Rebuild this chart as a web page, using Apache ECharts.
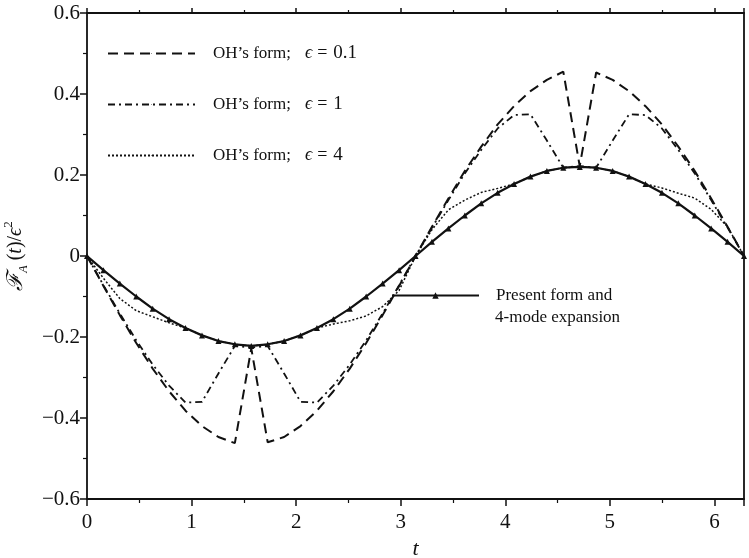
<!DOCTYPE html>
<html>
<head>
<meta charset="utf-8">
<script src="https://cdn.jsdelivr.net/npm/echarts@6/dist/echarts.min.js"></script>
<style>html,body{margin:0;padding:0;background:#fff;}#c{width:749px;height:558px;}</style>
</head>
<body>
<div id="c"></div>
<script>
// t sampling points
const tValues = [0, 0.157, 0.314, 0.471, 0.628, 0.785, 0.942, 1.100, 1.257, 1.414,
  1.571, 1.728, 1.885, 2.042, 2.199, 2.356, 2.513, 2.670, 2.827, 2.985,
  3.142, 3.299, 3.456, 3.613, 3.770, 3.927, 4.084, 4.241, 4.398, 4.555,
  4.712, 4.869, 5.027, 5.184, 5.341, 5.498, 5.655, 5.812, 5.969, 6.126, 6.283];

// Present form and 4-mode expansion
const presentForm = [0, -0.035, -0.068, -0.100, -0.130, -0.156, -0.178, -0.196, -0.210, -0.218,
  -0.222, -0.218, -0.210, -0.196, -0.178, -0.156, -0.130, -0.100, -0.068, -0.035,
  0, 0.035, 0.068, 0.100, 0.130, 0.156, 0.178, 0.196, 0.210, 0.218,
  0.220, 0.218, 0.210, 0.196, 0.178, 0.156, 0.130, 0.100, 0.068, 0.035, 0];

// OH's form, eps = 0.1
const ohEps01 = [0, -0.074, -0.146, -0.215, -0.278, -0.334, -0.382, -0.420, -0.447, -0.462,
  -0.228, -0.460, -0.447, -0.420, -0.382, -0.334, -0.278, -0.215, -0.146, -0.074,
  0, 0.072, 0.142, 0.210, 0.270, 0.325, 0.370, 0.407, 0.435, 0.455,
  0.222, 0.453, 0.435, 0.407, 0.370, 0.325, 0.270, 0.210, 0.142, 0.072, 0];

// OH's form, eps = 1
const ohEps1 = [0, -0.072, -0.142, -0.208, -0.268, -0.320, -0.362, -0.360, -0.290, -0.222,
  -0.226, -0.222, -0.290, -0.360, -0.362, -0.320, -0.268, -0.208, -0.142, -0.072,
  0, 0.070, 0.138, 0.204, 0.262, 0.315, 0.348, 0.350, 0.285, 0.218,
  0.222, 0.218, 0.285, 0.350, 0.348, 0.315, 0.262, 0.204, 0.138, 0.070, 0];

// OH's form, eps = 4
const ohEps4 = [0, -0.055, -0.105, -0.135, -0.150, -0.165, -0.178, -0.196, -0.210, -0.218,
  -0.222, -0.218, -0.210, -0.196, -0.178, -0.168, -0.160, -0.148, -0.125, -0.085,
  0, 0.065, 0.114, 0.138, 0.157, 0.167, 0.178, 0.196, 0.210, 0.218,
  0.220, 0.218, 0.210, 0.196, 0.178, 0.168, 0.155, 0.143, 0.115, 0.072, 0];

const xTickLabels = ['0', '1', '2', '3', '4', '5', '6'];
const yTickLabels = ['−0.6', '−0.4', '−0.2', '0', '0.2', '0.4', '0.6'];

const legendLabels = {
  e01: ['OH\u2019s form;', '0.1'],
  e1: ['OH\u2019s form;', '1'],
  e4: ['OH\u2019s form;', '4']
};

const FONT = '"Liberation Serif", "Times New Roman", serif';
const INK = '#111';

function pairs(ys) { return tValues.map((t, i) => [t, ys[i]]); }

const chart = echarts.init(document.getElementById('c'));

const baseAxis = {
  axisLine: { show: true, onZero: false, lineStyle: { color: INK, width: 1.8 } },
  splitLine: { show: false },
};

const option = {
  backgroundColor: '#fff',
  animation: false,
  grid: { left: 87, right: 5, top: 13, bottom: 59, containLabel: false, outerBoundsMode: 'none' },
  xAxis: [{
    ...baseAxis,
    type: 'value', min: 0, max: 6.283, interval: 1,
    position: 'bottom',
    axisTick: { show: true, length: 7, lineStyle: { color: INK, width: 1.5 } },
    minorTick: { show: true, splitNumber: 2, length: 4, lineStyle: { color: INK, width: 1.2 } },
    axisLabel: {
      color: INK, fontFamily: FONT, fontSize: 21, margin: 13,
      formatter: v => { const i = Math.round(v); return Math.abs(v - i) < 1e-6 && xTickLabels[i] !== undefined ? xTickLabels[i] : ''; }
    },
    name: 't', nameLocation: 'middle', nameGap: 39,
    nameTextStyle: { color: INK, fontFamily: FONT, fontSize: 22, fontStyle: 'italic' }
  }, {
    ...baseAxis,
    type: 'value', min: 0, max: 6.283, interval: 1,
    position: 'top',
    axisTick: { show: true, length: 5, lineStyle: { color: INK, width: 1.5 } },
    minorTick: { show: true, splitNumber: 2, length: 3, lineStyle: { color: INK, width: 1.2 } },
    axisLabel: { show: false }
  }],
  yAxis: [{
    ...baseAxis,
    type: 'value', min: -0.6, max: 0.6, interval: 0.2,
    position: 'left',
    axisTick: { show: true, length: 7, lineStyle: { color: INK, width: 1.5 } },
    minorTick: { show: true, splitNumber: 2, length: 4, lineStyle: { color: INK, width: 1.2 } },
    axisLabel: {
      color: INK, fontFamily: FONT, fontSize: 21, margin: 7,
      formatter: v => { const i = Math.round((v + 0.6) / 0.2); return yTickLabels[i] !== undefined ? yTickLabels[i] : ''; }
    },
    name: '{f|ℱ}{sub|A}{n| (}{i|t}{n|)/}{i|ϵ}{sup|2}',
    nameLocation: 'middle', nameGap: 57, nameRotate: 90,
    nameTextStyle: {
      color: INK, fontFamily: FONT, fontSize: 20,
      rich: {
        f: { fontFamily: FONT, fontSize: 22, fontStyle: 'italic', color: INK, lineHeight: 28 },
        sub: { fontFamily: FONT, fontSize: 12, fontStyle: 'italic', color: INK, lineHeight: 12, verticalAlign: 'bottom' },
        n: { fontFamily: FONT, fontSize: 20, color: INK, lineHeight: 28 },
        i: { fontFamily: FONT, fontSize: 20, fontStyle: 'italic', color: INK, lineHeight: 28 },
        sup: { fontFamily: FONT, fontSize: 13, color: INK, lineHeight: 13, verticalAlign: 'top' }
      }
    }
  }, {
    ...baseAxis,
    type: 'value', min: -0.6, max: 0.6, interval: 0.2,
    position: 'right',
    axisTick: { show: false },
    axisLabel: { show: false }
  }],
  legend: [{
    data: ['e01', 'e1', 'e4'],
    orient: 'vertical', left: 102, top: 39,
    itemWidth: 87, itemHeight: 1, itemGap: 32,
    selectedMode: false,
    formatter: name => '{a|' + legendLabels[name][0] + '}{e|ϵ}{q|=}{b|' + legendLabels[name][1] + '}',
    textStyle: {
      color: INK, fontFamily: FONT, fontSize: 17,
      rich: {
        a: { fontFamily: FONT, fontSize: 17, color: INK, padding: [0, 0, 0, 13], lineHeight: 20 },
        e: { fontFamily: FONT, fontSize: 18, fontStyle: 'italic', color: INK, padding: [0, 0, 0, 14], lineHeight: 20 },
        q: { fontFamily: FONT, fontSize: 18, color: INK, padding: [0, 6, 0, 5], lineHeight: 20 },
        b: { fontFamily: FONT, fontSize: 19, color: INK, lineHeight: 20 }
      }
    }
  }, {
    data: ['present'],
    orient: 'vertical', left: 386, top: 282,
    itemWidth: 87, itemHeight: 8,
    selectedMode: false,
    formatter: () => '{a|Present form and}',
    textStyle: {
      color: INK, fontFamily: FONT, fontSize: 17,
      rich: { a: { fontFamily: FONT, fontSize: 17, color: INK, padding: [0, 0, 0, 12], lineHeight: 20 } }
    }
  }],
  graphic: [{
    type: 'text', left: 495, top: 309,
    style: { text: '4-mode expansion', fill: INK, font: '17px ' + FONT }
  }],
  series: [{
    name: 'e01', type: 'line', data: pairs(ohEps01), symbol: 'none',
    lineStyle: { color: INK, width: 2, type: [10, 6] }, itemStyle: { color: INK }, z: 2
  }, {
    name: 'e1', type: 'line', data: pairs(ohEps1), symbol: 'none',
    lineStyle: { color: INK, width: 1.8, type: [7, 4, 2, 4] }, itemStyle: { color: INK }, z: 3
  }, {
    name: 'e4', type: 'line', data: pairs(ohEps4), symbol: 'none',
    lineStyle: { color: INK, width: 1.5, type: [2, 2] }, itemStyle: { color: INK }, z: 4
  }, {
    name: 'present', type: 'line', data: pairs(presentForm),
    symbol: 'triangle', symbolSize: 6, showSymbol: true,
    lineStyle: { color: INK, width: 2.2, type: 'solid' }, itemStyle: { color: INK }, z: 5
  }]
};

chart.setOption(option);
</script>
</body>
</html>
